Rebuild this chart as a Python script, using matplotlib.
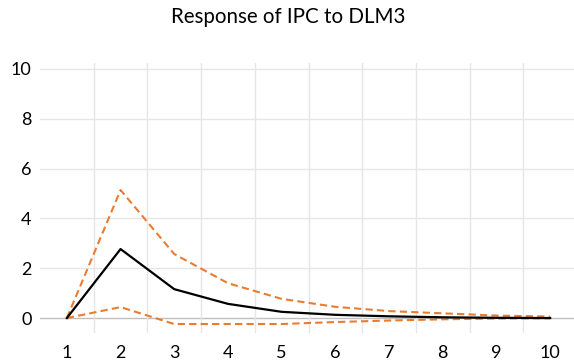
import matplotlib
matplotlib.use("Agg")
import matplotlib.pyplot as plt

periods = [1, 2, 3, 4, 5, 6, 7, 8, 9, 10]
response = [0.0, 2.77, 1.16, 0.57, 0.25, 0.13, 0.07, 0.03, 0.01, 0.0]
upper = [0.0, 5.14, 2.57, 1.40, 0.77, 0.45, 0.28, 0.19, 0.10, 0.06]
lower = [0.0, 0.44, -0.24, -0.24, -0.24, -0.16, -0.10, -0.05, -0.02, -0.01]
yticks = [0, 2, 4, 6, 8, 10]
title = "Response of IPC to DLM3"

plt.rcParams['font.family'] = ['Lato', 'DejaVu Sans']

fig = plt.figure(figsize=(5.74, 3.62), dpi=100)
ax = fig.add_axes([40/574, 29/362, 537/574, 270/362])

orange = "#E97C30"
ax.plot(periods, upper, color=orange, lw=1.5, ls=(0, (3.5, 2)), zorder=3)
ax.plot(periods, lower, color=orange, lw=1.5, ls=(0, (3.5, 2)), zorder=3)
ax.plot(periods, response, color="black", lw=1.6, zorder=4)

ax.set_xlim(0.5, 10.5)
ax.set_ylim(-0.6, 10.24)
ax.set_yticks(yticks)
ax.set_xticks(periods)
ax.set_xticklabels([str(p) for p in periods])

for y in yticks:
    ax.axhline(y, color="#BFBFBF" if y == 0 else "#E6E6E6", lw=1.0, zorder=1)
for x in [p + 0.5 for p in periods[:-1]]:
    ax.axvline(x, color="#E6E6E6", lw=1.0, zorder=1)

for s in ax.spines.values():
    s.set_visible(False)
ax.tick_params(length=0, labelsize=13, colors="#000000")
ax.tick_params(axis='x', pad=9)
ax.tick_params(axis='y', pad=6)

fig.text(0.502, 1 - 17/362, title, ha='center', va='center', fontsize=14.8)

fig.savefig("out.png", dpi=100)
